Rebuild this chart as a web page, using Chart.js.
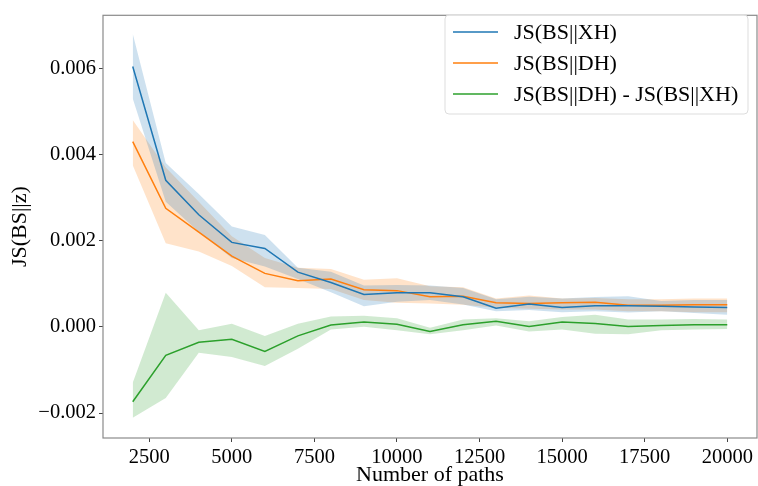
<!DOCTYPE html>
<html>
<head>
<meta charset="utf-8">
<script src="https://cdn.jsdelivr.net/npm/chart.js@4.4.1/dist/chart.umd.min.js"></script>
<style>
  html, body { margin: 0; padding: 0; background: #fff; }
  #wrap { width: 758px; height: 486px; }
</style>
</head>
<body>
<div id="wrap"><canvas id="chart"></canvas></div>
<script>
// number of paths
const paths = [2000, 3000, 4000, 5000, 6000, 7000, 8000, 9000, 10000, 11000,
  12000, 13000, 14000, 15000, 16000, 17000, 18000, 19000, 20000];

// JS(BS||XH): mean and band
const xhMean = [0.00604, 0.0034, 0.0026, 0.00196, 0.00182, 0.00127, 0.00103, 0.00075, 0.00079, 0.00079,
  0.0007, 0.00043, 0.00053, 0.00045, 0.00049, 0.00049, 0.00048, 0.00046, 0.00045];
const xhUpper = [0.0068, 0.0038, 0.00308, 0.00233, 0.00213, 0.00137, 0.00128, 0.00096, 0.00097, 0.00096,
  0.0009, 0.00064, 0.0007, 0.00066, 0.00069, 0.00071, 0.0006, 0.00062, 0.00062];
const xhLower = [0.0053, 0.0029, 0.0022, 0.0016, 0.0014, 0.00111, 0.0008, 0.00048, 0.00058, 0.00062,
  0.00052, 0.00036, 0.00039, 0.00034, 0.00036, 0.00033, 0.00036, 0.00032, 0.00028];

// JS(BS||DH)
const dhMean = [0.0043, 0.00275, 0.0022, 0.00164, 0.00124, 0.00107, 0.00111, 0.00086, 0.00084, 0.0007,
  0.00071, 0.00056, 0.00054, 0.00056, 0.00057, 0.0005, 0.0005, 0.00051, 0.00051];
const dhUpper = [0.0048, 0.0037, 0.0029, 0.0021, 0.0016, 0.00137, 0.00134, 0.00109, 0.00113, 0.00094,
  0.00092, 0.00066, 0.00073, 0.00066, 0.00067, 0.00064, 0.00064, 0.00066, 0.00066];
const dhLower = [0.00375, 0.00194, 0.00175, 0.00141, 0.00092, 0.0009, 0.00088, 0.00062, 0.00056, 0.00054,
  0.00051, 0.00044, 0.00042, 0.0004, 0.0004, 0.00036, 0.00036, 0.00034, 0.00034];

// JS(BS||DH) - JS(BS||XH)
const diffMean = [-0.00174, -0.00066, -0.00036, -0.00029, -0.00057, -0.00021, 0.00004, 0.00011, 0.00006, -0.00011,
  0.00005, 0.00013, 0.00001, 0.00011, 0.00008, 0.00001, 0.00003, 0.00005, 0.00005];
const diffUpper = [-0.0013, 0.00079, -0.00008, 0.00007, -0.00021, 0.00007, 0.00024, 0.00026, 0.0002, -0.00002,
  0.00017, 0.0002, 0.00013, 0.00023, 0.00028, 0.00017, 0.00017, 0.00018, 0.00017];
const diffLower = [-0.00211, -0.00165, -0.0006, -0.0007, -0.00091, -0.00051, -0.00006, 0, -0.00008, -0.00017,
  -0.00008, 0.00003, -0.00011, -0.00006, -0.00016, -0.00017, -0.00008, -0.00006, -0.00005];

const xTicks = [2500, 5000, 7500, 10000, 12500, 15000, 17500, 20000];
const yTicks = [-0.002, 0, 0.002, 0.004, 0.006];
const seriesNames = ['JS(BS||XH)', 'JS(BS||DH)', 'JS(BS||DH) - JS(BS||XH)'];
const colors = ['#1f77b4', '#ff7f0e', '#2ca02c'];
const bandColors = ['rgba(31,119,180,0.22)', 'rgba(255,127,14,0.22)', 'rgba(44,160,44,0.22)'];

const FONT = "'Liberation Serif', 'Times New Roman', serif";
const pts = arr => arr.map((v, i) => ({ x: paths[i], y: v }));

const lines = [];
const bands = [];
[[xhMean, xhUpper, xhLower], [dhMean, dhUpper, dhLower], [diffMean, diffUpper, diffLower]]
  .forEach(([m, u, l], k) => {
    lines.push({ label: seriesNames[k], data: pts(m), borderColor: colors[k], borderWidth: 1.5,
      pointRadius: 0, fill: false, tension: 0 });
    bands.push({ label: 'upper' + k, data: pts(u), borderWidth: 0, borderColor: 'transparent',
      backgroundColor: bandColors[k], pointRadius: 0, fill: '+1', tension: 0 });
    bands.push({ label: 'lower' + k, data: pts(l), borderWidth: 0, borderColor: 'transparent',
      pointRadius: 0, fill: false, tension: 0 });
  });

// frame on all four sides + legend box inside the plot
const framePlugin = {
  id: 'frame',
  afterDraw(chart) {
    const { ctx, chartArea: a } = chart;
    ctx.save();
    ctx.strokeStyle = '#8a8a8a';
    ctx.lineWidth = 1.2;
    ctx.strokeRect(a.left, a.top, a.right - a.left, a.bottom - a.top);

    // legend
    const bx = 445, by = 15, bw = 303, bh = 99, r = 4;
    ctx.beginPath();
    ctx.moveTo(bx + r, by);
    ctx.arcTo(bx + bw, by, bx + bw, by + bh, r);
    ctx.arcTo(bx + bw, by + bh, bx, by + bh, r);
    ctx.arcTo(bx, by + bh, bx, by, r);
    ctx.arcTo(bx, by, bx + bw, by, r);
    ctx.closePath();
    ctx.fillStyle = 'rgba(255,255,255,0.8)';
    ctx.fill();
    ctx.strokeStyle = '#dddddd';
    ctx.lineWidth = 1;
    ctx.stroke();
    ctx.font = '22px ' + FONT;
    ctx.textBaseline = 'middle';
    ctx.fillStyle = '#000';
    seriesNames.forEach((name, k) => {
      const y = 32 + k * 31;
      ctx.strokeStyle = colors[k];
      ctx.lineWidth = 1.5;
      ctx.beginPath();
      ctx.moveTo(453, y);
      ctx.lineTo(498, y);
      ctx.stroke();
      ctx.fillText(name, 514, y + 1);
    });
    ctx.restore();
  }
};

new Chart(document.getElementById('chart'), {
  type: 'line',
  data: { datasets: [...lines, ...bands] },
  options: {
    responsive: true,
    maintainAspectRatio: false,
    animation: false,
    layout: { padding: { top: 5, right: 1, left: 0, bottom: 0 } },
    plugins: {
      legend: { display: false },
      tooltip: { enabled: false },
      filler: { drawTime: 'beforeDatasetsDraw' }
    },
    scales: {
      x: {
        type: 'linear',
        min: 1100,
        max: 20900,
        afterBuildTicks: s => { s.ticks = xTicks.map(v => ({ value: v })); },
        afterFit: s => { s.height = 48; },
        grid: { drawOnChartArea: false, drawTicks: true, tickLength: 4, color: '#444' },
        border: { display: false },
        ticks: { color: '#000', font: { family: FONT, size: 20.5 }, padding: 3, maxRotation: 0,
          callback: v => String(v) },
        title: { display: true, text: 'Number of paths', color: '#000',
          font: { family: FONT, size: 22 }, padding: { top: 0, bottom: -2 } }
      },
      y: {
        type: 'linear',
        min: -0.00258,
        max: 0.00723,
        afterBuildTicks: s => { s.ticks = yTicks.map(v => ({ value: v })); },
        afterFit: s => { s.width = 103; },
        grid: { drawOnChartArea: false, drawTicks: true, tickLength: 4, color: '#444' },
        border: { display: false },
        ticks: { color: '#000', font: { family: FONT, size: 20.5 }, padding: 3,
          callback: v => (v < 0 ? '\u2212' : '') + Math.abs(v).toFixed(3) },
        title: { display: true, text: 'JS(BS||z)', color: '#000',
          font: { family: FONT, size: 22 }, padding: { top: 7, bottom: 0 } }
      }
    }
  },
  plugins: [framePlugin]
});
</script>
</body>
</html>
